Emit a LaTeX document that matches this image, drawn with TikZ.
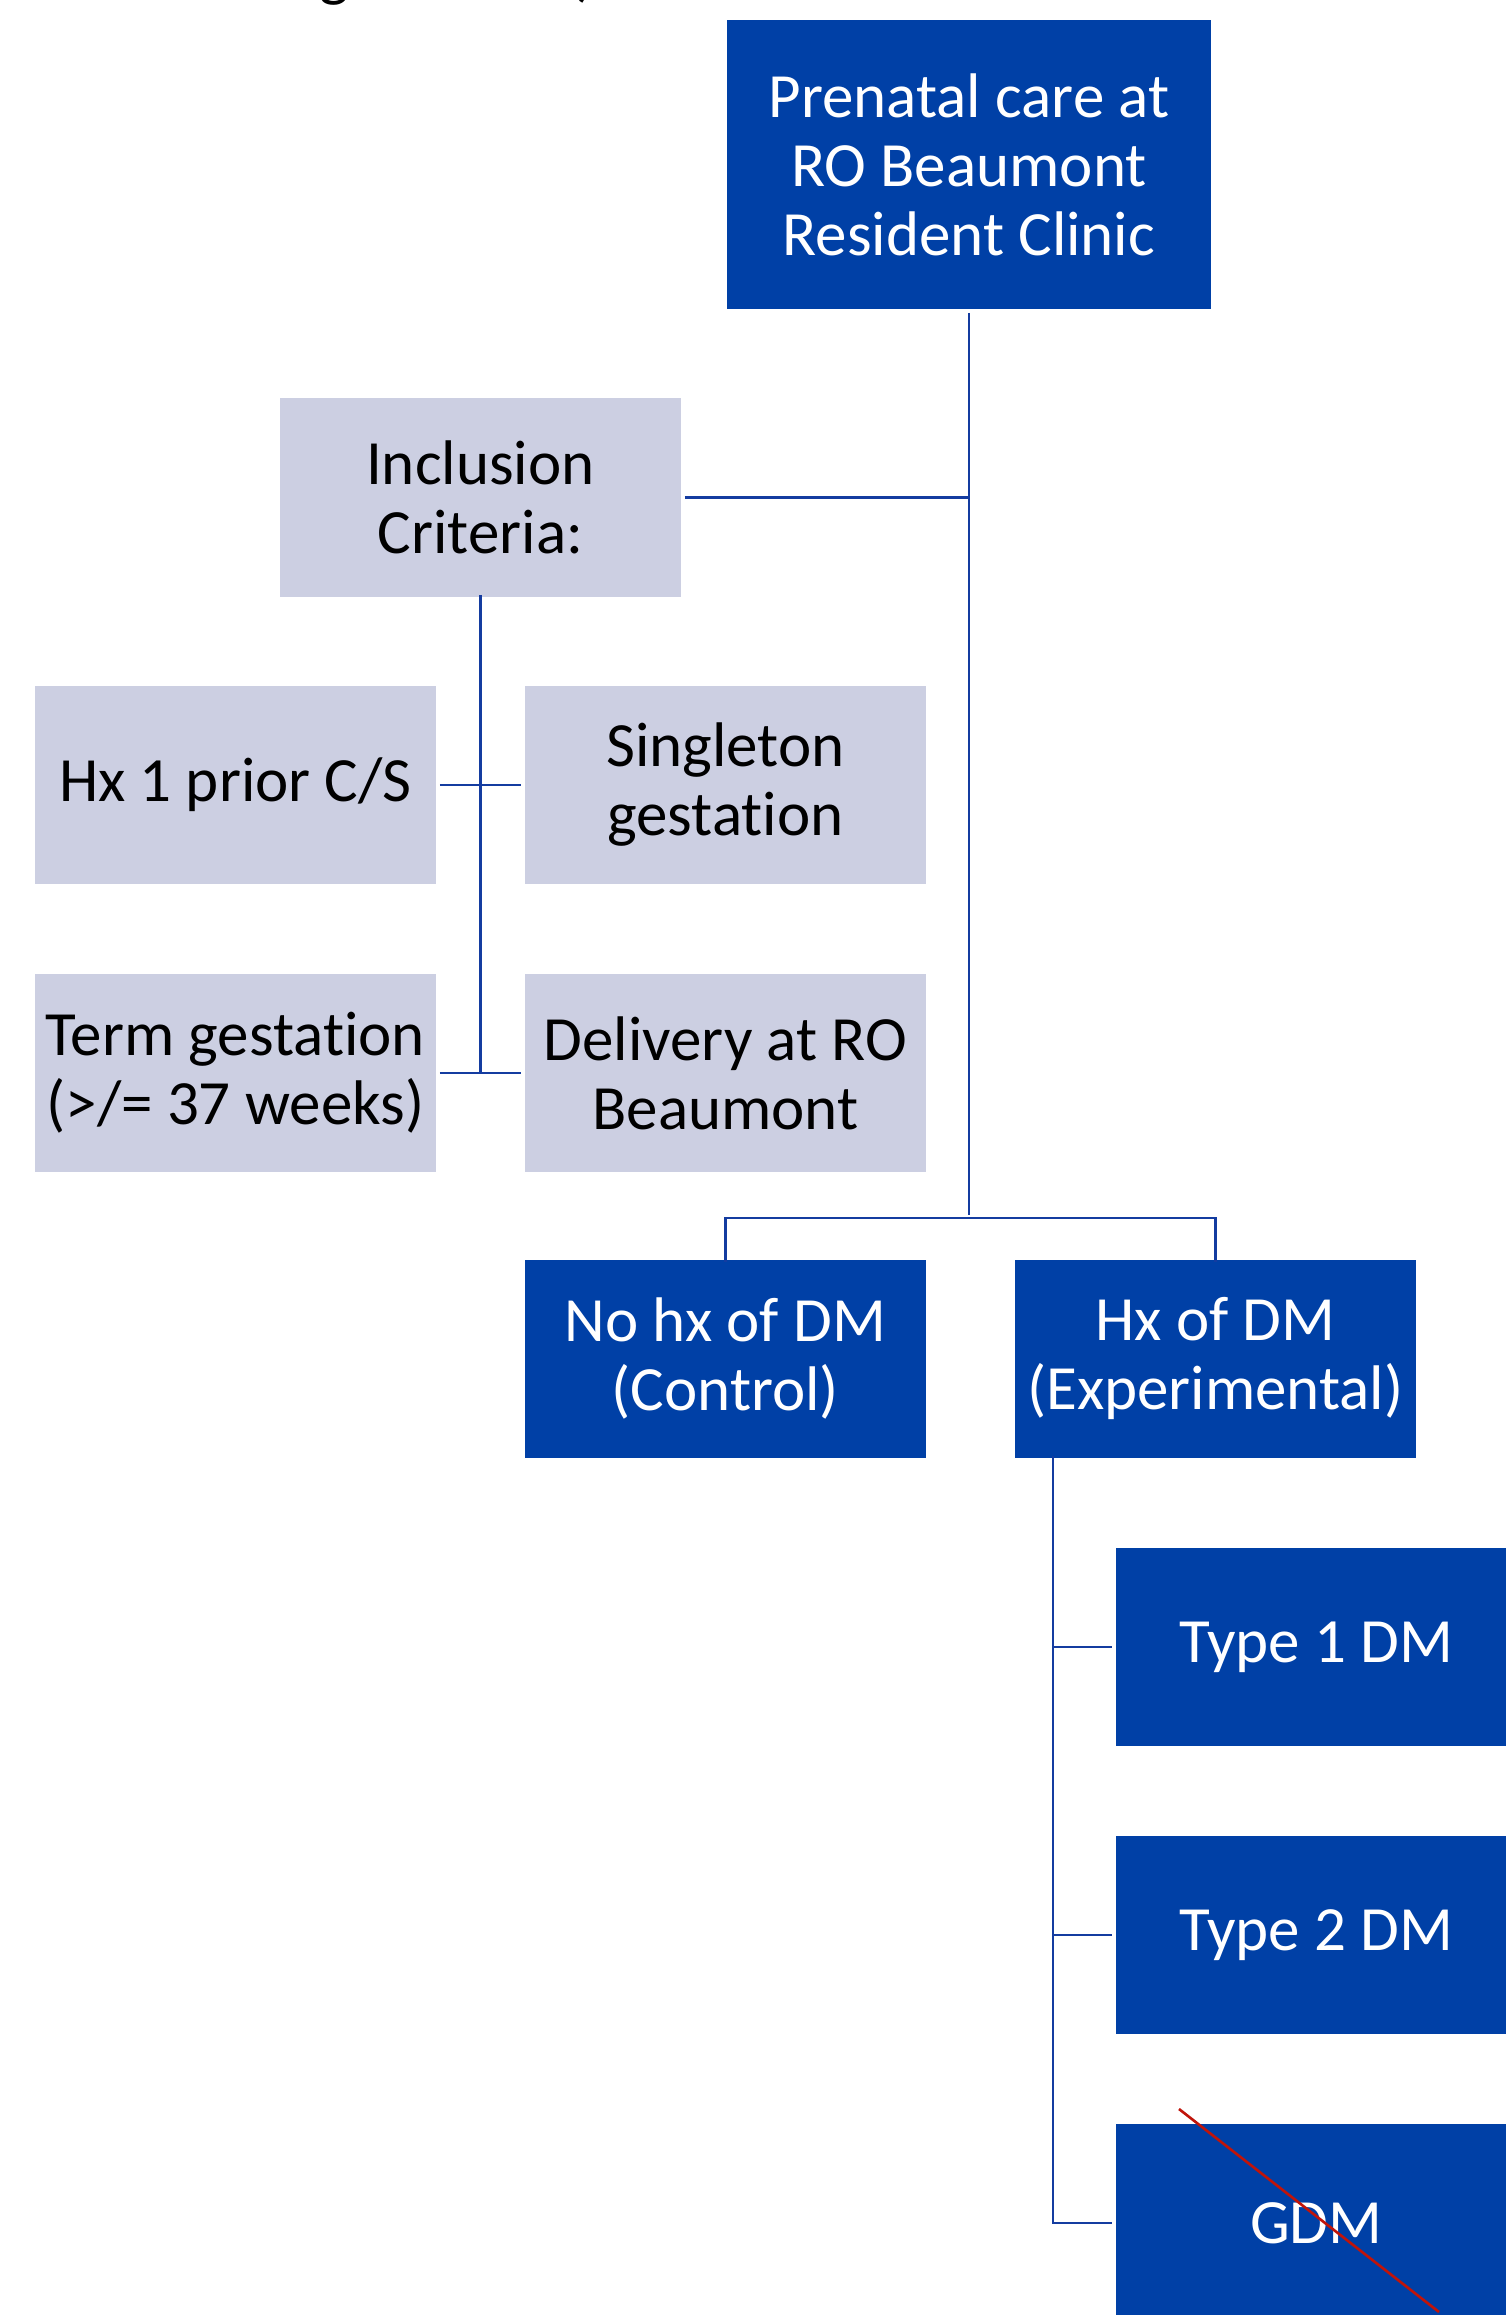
\documentclass[tikz,border=0pt]{standalone}
\usepackage{fontspec}
\setmainfont{Carlito}[Ligatures=NoCommon]
\definecolor{boxblue}{RGB}{0,64,166}
\definecolor{boxgray}{RGB}{204,207,226}
\definecolor{lineblue}{RGB}{20,60,160}
\definecolor{strikered}{RGB}{192,20,10}
\tikzset{
  basebox/.style={anchor=north west, align=center, inner sep=0pt,
    minimum width=402pt, minimum height=199pt, draw=white, line width=0.8pt,
    font=\fontsize{63}{69}\selectfont},
  darkbox/.style={basebox, fill=boxblue, text=white},
  graybox/.style={basebox, fill=boxgray, text=black},
  conn/.style={draw=lineblue, line width=2.7pt},
}
\begin{document}
\begin{tikzpicture}[x=1pt,y=-1pt]
\useasboundingbox (0,0) rectangle (1506,2315);
\clip (0,0) rectangle (1506,2315);
\fill[white] (0,0) rectangle (1506,2315);
% partial text cut off at top
\node[anchor=base, inner sep=0pt, font=\fontsize{63}{69}\selectfont] (cutg) at (334,-5) {g};
\node[anchor=base, inner sep=0pt, font=\fontsize{63}{69}\selectfont] (cutp) at (586,-5) {)};
% boxes
\node[darkbox, minimum width=485pt, minimum height=290pt] (top) at (726,19) {Prenatal care at\\RO Beaumont\\Resident Clinic};
\node[graybox, minimum height=200pt] (incl) at (279,397) {Inclusion\\Criteria:};
\node[graybox] (hx1) at (34,685) {Hx 1 prior C/S};
\node[graybox] (single) at (524,685) {Singleton\\gestation};
\node[graybox] (term) at (34,973) {Term gestation\\(>/= 37 weeks)};
\node[graybox] (deliv) at (524,973) {Delivery at RO\\Beaumont};
\node[darkbox] (nohx) at (524,1259) {No hx of DM\\(Control)};
\node[darkbox] (hxdm) at (1014,1259) {Hx of DM\\(Experimental)};
\node[darkbox] (t1) at (1115,1547) {Type 1 DM};
\node[darkbox] (t2) at (1115,1835) {Type 2 DM};
\node[darkbox] (gdm) at (1115,2123) {GDM};
% connectors
\coordinate (bar) at (969,1215);
\draw[conn] ([yshift=-3pt]top.south) -- (top.south |- bar);
\draw[conn] ([xshift=3pt]incl.east) -- (incl.east -| top.south);
\draw[conn] ([yshift=-3pt]nohx.north) -- ([yshift=-3pt]nohx.north |- bar) -| ([yshift=-3pt]hxdm.north);
\draw[conn] ([yshift=3pt]incl.south) -- (incl.south |- term.east);
\draw[conn] ([xshift=3pt]hx1.east) -- ([xshift=-3pt]single.west);
\draw[conn] ([xshift=3pt]term.east) -- ([xshift=-3pt]deliv.west);
\coordinate (hxv) at ([xshift=39pt,yshift=3pt]hxdm.south west);
\draw[conn] (hxv) |- ([xshift=-3pt]t1.west);
\draw[conn] (hxv) |- ([xshift=-3pt]t2.west);
\draw[conn] (hxv) |- ([xshift=-3pt]gdm.west);
% strike-through
\draw[strikered, line width=2.6pt] (1179,2109) -- (1439,2312);
\end{tikzpicture}
\end{document}
